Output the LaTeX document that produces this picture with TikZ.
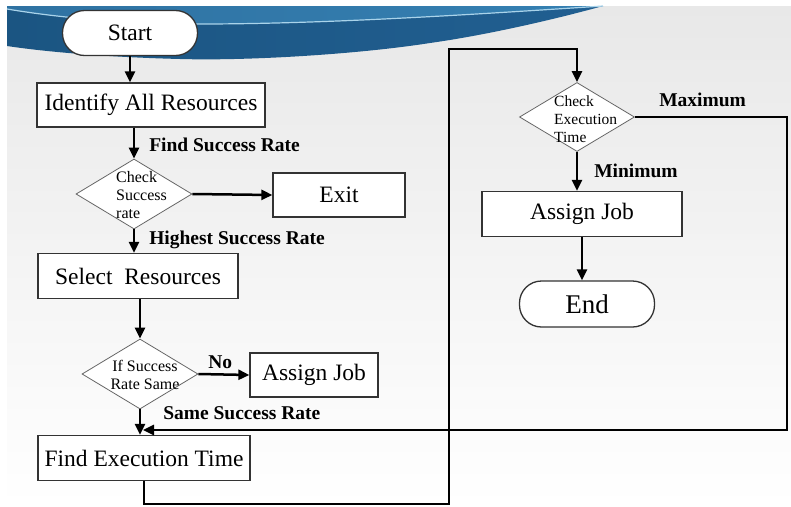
\documentclass[tikz,border=0pt]{standalone}
\usepackage{fontspec}
\newfontfamily\tms{Liberation Serif}
\usetikzlibrary{shapes.geometric}
\usetikzlibrary{arrows.meta}
\definecolor{bandL}{HTML}{1B5582}
\definecolor{bandM}{HTML}{2A6E9D}
\definecolor{bandR}{HTML}{215F91}
\definecolor{hiL}{HTML}{2F72A2}
\definecolor{hiM}{HTML}{4E9DC8}
\definecolor{hiR}{HTML}{3580B2}
\definecolor{stripe}{HTML}{A9D3EA}

\begin{document}
\begin{tikzpicture}[x=1pt,y=-1pt,>={Triangle[length=11pt,width=10pt]},
    box/.style={draw=black!80,line width=1.3pt,fill=white,inner sep=0pt,font=\tms\fontsize{23.5}{26}\selectfont},
    term/.style={box,rounded corners=22pt,minimum width=135pt,minimum height=45pt},
    dec/.style={diamond,draw=black!60,line width=0.8pt,fill=white,inner sep=0pt,minimum width=116pt,minimum height=70pt},
    dectxt/.style={align=left,inner sep=0pt,font=\tms\fontsize{16}{18}\selectfont},
    lbl/.style={inner sep=0pt,anchor=west,font=\tms\bfseries\fontsize{19.5}{22}\selectfont},
    flow/.style={->,line width=2.5pt}]
    \useasboundingbox (0,0) rectangle (791,506);
    % slide background
    \fill[white] (0,0) rectangle (791,506);
    \shade[top color=gray!18,bottom color=white] (7,6) rectangle (791,506);
    \shade[left color=bandL,middle color=bandM,right color=bandR]
        (7,6) -- (603,6) .. controls (545,22) and (480,36) .. (430,43)
        .. controls (360,54) and (250,61) .. (180,59)
        .. controls (100,57) and (40,51) .. (7,46) -- cycle;
    \shade[left color=hiL,middle color=hiM,right color=hiR]
        (7,6) -- (603,6) .. controls (480,14) and (330,24) .. (200,24)
        .. controls (130,24) and (60,18) .. (7,9) -- cycle;
    \draw[stripe,line width=1.2pt] (7,9) .. controls (60,18) and (130,24) .. (200,24)
        .. controls (330,24) and (480,14) .. (603,6);

    % left column
    \node[term] (start) at (130,33) {Start};
    \node[box,minimum width=228pt,minimum height=44pt] (ident) at (151,105) {Identify All Resources};
    \node[dec] (chk1) at (134,194) {};
    \node[dectxt,anchor=west] (chk1t) at (116,195) {Check\\Success\\rate};
    \node[box,minimum width=132pt,minimum height=44pt] (exit) at (339,195) {Exit};
    \node[box,minimum width=200pt,minimum height=45pt] (sel) at (138,276) {Select\ \ Resources};
    \node[dec] (chk2) at (140,374) {};
    \node[dectxt,align=center] (chk2t) at (145,375) {If Success\\Rate Same};
    \node[box,minimum width=128pt,minimum height=44pt] (job1) at (314,375) {Assign Job};
    \node[box,minimum width=212pt,minimum height=45pt] (fet) at (144,458) {Find Execution Time};

    % right column
    \node[dec,minimum width=115pt,minimum height=69pt] (chk3) at (577,117) {};
    \node[dectxt,anchor=west,font=\tms\fontsize{15.5}{18}\selectfont] (chk3t) at (554,119) {Check\\Execution\\Time};
    \node[box,minimum width=200pt,minimum height=45pt] (job2) at (582,214) {Assign Job};
    \node[term,minimum height=46pt,font=\tms\fontsize{27}{28}\selectfont] (end) at (587,304) {End};

    % loop corners
    \coordinate (lpbot) at (449,504);
    \coordinate (lptop) at (449,49);
    \coordinate (rtop) at (787,117);
    \coordinate (rbot) at (787,430);
    \coordinate (mrg) at (143,430);

    % connectors
    \draw[flow] (start.south) -- (ident.north -| start.south);
    \draw[flow] (ident.south -| chk1.north) -- (chk1.north)
        node[lbl] (lfind) at (148,145) {Find Success Rate};
    \draw[flow] (chk1.east) -- (exit.west);
    \draw[flow] (chk1.south) -- (sel.north -| chk1.south)
        node[lbl] (lhigh) at (148,240) {Highest Success Rate};
    \draw[flow] (sel.south -| chk2.north) -- (chk2.north);
    \draw[flow] (chk2.east) -- (job1.west)
        node[lbl] (lno) at (207,362) {No};
    \draw[flow] (chk2.south) -- (fet.north -| chk2.south)
        node[lbl] (lsame) at (162,413) {Same Success Rate};
    \draw[flow] (fet.south) |- (lpbot) -- (lptop) -| (chk3.north);
    \draw[flow] (chk3.south) -- (job2.north -| chk3.south)
        node[lbl] (lmin) at (593,171) {Minimum};
    \draw[flow] (job2.south) -- (end.north -| job2.south);
    \draw[flow] (chk3.east) -- (rtop) -- (rbot) -- (mrg)
        node[lbl] (lmax) at (658,100) {Maximum};
\end{tikzpicture}
\end{document}
